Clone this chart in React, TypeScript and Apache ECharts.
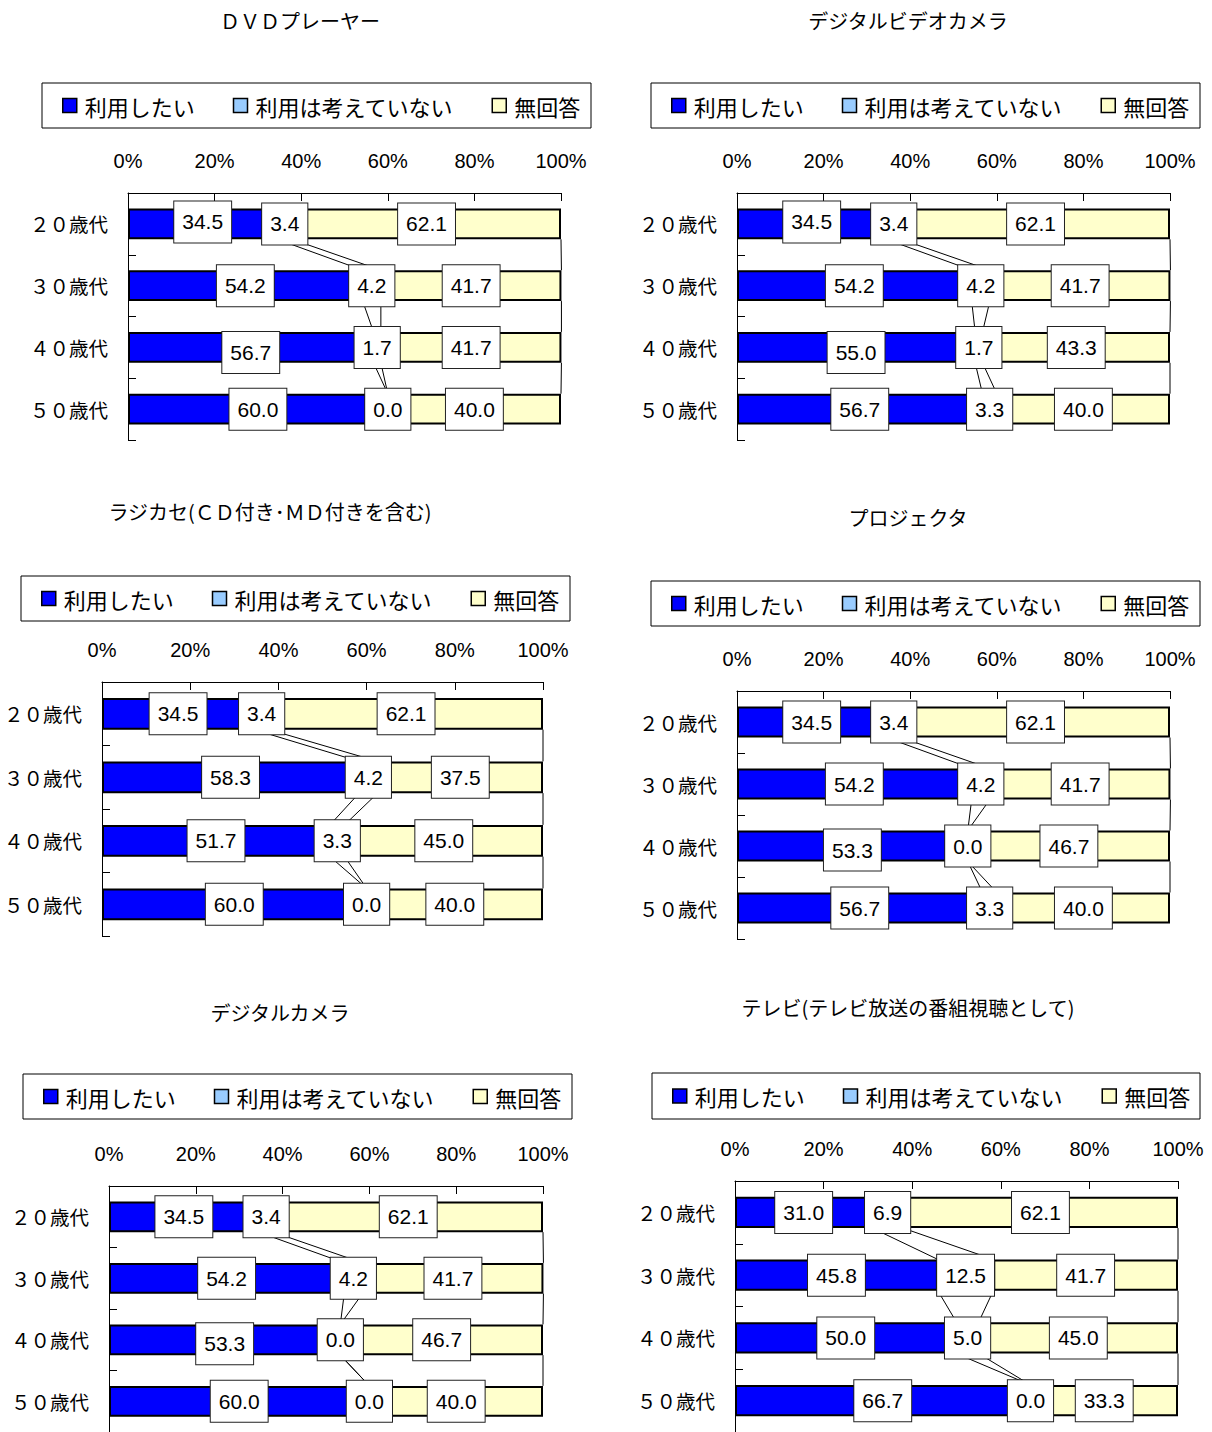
import React, { useEffect, useRef } from 'react';
import * as echarts from 'echarts';

const AGES = ['２０歳代', '３０歳代', '４０歳代', '５０歳代'];
const NAMES = ['利用したい', '利用は考えていない', '無回答'];
const TITLES = [
  'ＤＶＤプレーヤー',
  'デジタルビデオカメラ',
  'ラジカセ(ＣＤ付き･ＭＤ付きを含む)',
  'プロジェクタ',
  'デジタルカメラ',
  'テレビ(テレビ放送の番組視聴として)',
];
const X_TICKS = [0, 20, 40, 60, 80, 100];

const dvdUse = [34.5, 54.2, 56.7, 60.0];
const dvdNot = [3.4, 4.2, 1.7, 0.0];
const dvdNone = [62.1, 41.7, 41.7, 40.0];

const videoUse = [34.5, 54.2, 55.0, 56.7];
const videoNot = [3.4, 4.2, 1.7, 3.3];
const videoNone = [62.1, 41.7, 43.3, 40.0];

const radioUse = [34.5, 58.3, 51.7, 60.0];
const radioNot = [3.4, 4.2, 3.3, 0.0];
const radioNone = [62.1, 37.5, 45.0, 40.0];

const projUse = [34.5, 54.2, 53.3, 56.7];
const projNot = [3.4, 4.2, 0.0, 3.3];
const projNone = [62.1, 41.7, 46.7, 40.0];

const camUse = [34.5, 54.2, 53.3, 60.0];
const camNot = [3.4, 4.2, 0.0, 0.0];
const camNone = [62.1, 41.7, 46.7, 40.0];

const tvUse = [31.0, 45.8, 50.0, 66.7];
const tvNot = [6.9, 12.5, 5.0, 0.0];
const tvNone = [62.1, 41.7, 45.0, 33.3];

const PANEL_DATA = [
  [dvdUse, dvdNot, dvdNone],
  [videoUse, videoNot, videoNone],
  [radioUse, radioNot, radioNone],
  [projUse, projNot, projNone],
  [camUse, camNot, camNone],
  [tvUse, tvNot, tvNone],
];

// layout: title center, legend box [x,y,w,h], grid [left, top, width, height]
const LAYOUT = [
  { title: [300, 20], box: [42, 83, 549, 45], grid: [128, 193, 433, 247] },
  { title: [908, 20], box: [651, 83, 549, 45], grid: [737, 193, 433, 247] },
  { title: [270, 511], box: [21, 576, 549, 45], grid: [102, 682, 441, 254] },
  { title: [908, 517], box: [651, 581, 549, 45], grid: [737, 691, 433, 248] },
  { title: [280, 1012], box: [23, 1074, 549, 45], grid: [109, 1186, 434, 247] },
  { title: [908, 1007], box: [652, 1073, 548, 46], grid: [735, 1181, 443, 256] },
];

// manually moved data labels in the original: [panel, series, row, dy]
const LABEL_NUDGES = [
  [0, 0, 2, 5],
  [1, 0, 2, 5],
  [3, 0, 2, 4],
  [4, 0, 2, 4],
  [0, 0, 0, -2],
  [1, 0, 0, -2],
];

const COLORS = ['#0000FF', '#0000FF', '#FFFFCC'];
const LEGEND_COLORS = ['#0000FF', '#99CCFF', '#FFFFCC'];
const FONT_JP = '"Noto Sans CJK JP", "Noto Sans", sans-serif';
const FONT_NUM = '"Liberation Sans", Arial, sans-serif';

function buildOption() {
  const grid: any[] = [];
  const xAxis: any[] = [];
  const yAxis: any[] = [];
  const legend: any[] = [];
  const series: any[] = [];
  const graphic: any[] = [];

  PANEL_DATA.forEach((panel, k) => {
    const L = LAYOUT[k];
    grid.push({ left: L.grid[0], top: L.grid[1], width: L.grid[2], height: L.grid[3] });
    xAxis.push({
      gridIndex: k,
      type: 'value',
      position: 'top',
      min: X_TICKS[0],
      max: X_TICKS[X_TICKS.length - 1],
      interval: X_TICKS[1] - X_TICKS[0],
      axisLine: { show: true, lineStyle: { color: '#000', width: 1 } },
      axisTick: { show: true, inside: true, length: 8, lineStyle: { color: '#000' } },
      splitLine: { show: false },
      axisLabel: {
        formatter: '{value}%',
        fontSize: 20,
        fontFamily: FONT_NUM,
        color: '#000',
        margin: 22,
      },
    });
    yAxis.push({
      gridIndex: k,
      type: 'category',
      inverse: true,
      data: AGES,
      axisLine: { show: true, lineStyle: { color: '#000', width: 1 } },
      axisTick: { show: true, inside: true, length: 8, lineStyle: { color: '#000' } },
      axisLabel: { fontSize: 19.5, fontFamily: FONT_JP, color: '#000', margin: 20 },
    });
    legend.push({
      left: L.box[0] + 20,
      top: L.box[1] + L.box[3] / 2 - 11,
      padding: 0,
      itemGap: 38,
      itemWidth: 14,
      itemHeight: 14,
      icon: 'rect',
      selectedMode: false,
      itemStyle: { borderColor: '#000', borderWidth: 1.5 },
      textStyle: { fontSize: 22, fontFamily: FONT_JP, color: '#000', padding: [0, 0, 0, 3] },
      data: NAMES.map((n, i) => ({ name: n, itemStyle: { color: LEGEND_COLORS[i] } })),
    });
    graphic.push({
      type: 'rect',
      shape: { x: L.box[0], y: L.box[1], width: L.box[2], height: L.box[3] },
      style: { fill: 'none', stroke: '#000', lineWidth: 1 },
      z: 0,
    });
    graphic.push({
      type: 'text',
      x: L.title[0],
      y: L.title[1],
      style: {
        text: TITLES[k],
        fontSize: 20,
        fontFamily: FONT_JP,
        fill: '#000',
        align: 'center',
        verticalAlign: 'middle',
      },
    });

    const zs = [3, 4, 2];
    panel.forEach((vals, s) => {
      series.push({
        type: 'bar',
        name: NAMES[s],
        xAxisIndex: k,
        yAxisIndex: k,
        stack: 'p' + k,
        barWidth: '50%',
        z: zs[s],
        itemStyle: { color: COLORS[s], borderColor: '#000', borderWidth: 2 },
        label: {
          show: true,
          position: 'inside',
          formatter: (p: any) => Number(p.value).toFixed(1),
          fontSize: 21,
          fontFamily: FONT_NUM,
          color: '#000',
          backgroundColor: '#fff',
          borderColor: '#222',
          borderWidth: 1,
          padding: [10, 8, 9, 8],
          lineHeight: 22,
        },
        data: vals.map((v, r) => {
          const n = LABEL_NUDGES.find((q) => q[0] === k && q[1] === s && q[2] === r);
          return n ? { value: v, label: { offset: [0, n[3]] } } : v;
        }),
      });
    });

    // series lines connecting segment boundaries of adjacent bars
    const lineData: number[][] = [];
    for (let i = 0; i < AGES.length - 1; i++) {
      const a = [panel[0][i], panel[0][i] + panel[1][i], panel[0][i] + panel[1][i] + panel[2][i]];
      const b = [
        panel[0][i + 1],
        panel[0][i + 1] + panel[1][i + 1],
        panel[0][i + 1] + panel[1][i + 1] + panel[2][i + 1],
      ];
      for (let j = 0; j < 3; j++) lineData.push([a[j], i, b[j], i + 1]);
    }
    series.push({
      type: 'custom',
      xAxisIndex: k,
      yAxisIndex: k,
      z: 1,
      silent: true,
      encode: { x: [0, 2], y: [1, 3] },
      renderItem: (params: any, api: any) => {
        const p1 = api.coord([api.value(0), api.value(1)]);
        const p2 = api.coord([api.value(2), api.value(3)]);
        const band = api.size([0, 1])[1];
        const half = band * 0.25;
        return {
          type: 'line',
          shape: { x1: p1[0], y1: p1[1] + half, x2: p2[0], y2: p2[1] - half },
          style: { stroke: '#000', lineWidth: 1 },
        };
      },
      data: lineData,
    });
  });

  return {
    animation: false,
    backgroundColor: '#fff',
    grid,
    xAxis,
    yAxis,
    legend,
    series,
    graphic,
  };
}

export default function App() {
  const ref = useRef<HTMLDivElement>(null);
  useEffect(() => {
    if (!ref.current) return;
    const chart = echarts.init(ref.current, undefined, { renderer: 'svg' });
    chart.setOption(buildOption() as any);
    return () => chart.dispose();
  }, []);
  return (
    <div
      ref={ref}
      style={{ position: 'absolute', left: 0, top: 0, width: 1212, height: 1432, background: '#fff' }}
    />
  );
}
